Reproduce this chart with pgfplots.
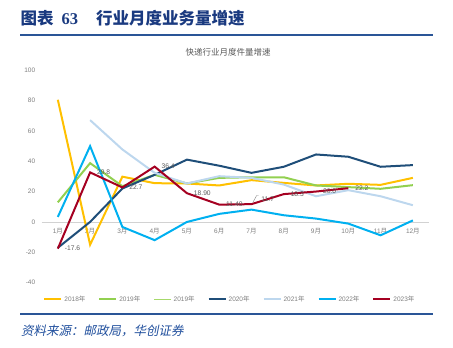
\documentclass[border=0pt]{standalone}
\usepackage{fontspec}
\setmainfont{Liberation Sans}
\newfontfamily\cjk{Noto Sans CJK SC}
\newfontfamily\cjksl{Noto Sans CJK SC}[FakeSlant=0.2]
\newfontfamily\serifb{Liberation Serif}
\usepackage{pgfplots}
\pgfplotsset{compat=1.18}
\definecolor{titleblue}{HTML}{1A3A80}
\definecolor{rulblue}{HTML}{2A5597}
\definecolor{srcblue}{HTML}{1F4E9C}
\definecolor{txtgray}{HTML}{595959}
\definecolor{lggray}{HTML}{7F7F7F}
\definecolor{c18}{HTML}{FFC000}
\definecolor{c19}{HTML}{92D050}
\definecolor{c19b}{HTML}{A6D96A}
\definecolor{c20}{HTML}{1F4E79}
\definecolor{c21}{HTML}{BDD7EE}
\definecolor{c22}{HTML}{00B0F0}
\definecolor{c23}{HTML}{A50021}
\begin{document}
\begin{tikzpicture}
\path[use as bounding box] (0,0) rectangle (453bp,348bp);
\node[anchor=west, inner sep=0pt, text=titleblue, font={\cjk\bfseries\fontsize{16.5bp}{18bp}\selectfont}] at (20.5bp,329.7bp) {图表\hspace{8bp}{\serifb\bfseries 63}\hspace{18bp}行业月度业务量增速};
\draw[rulblue, line width=1.5bp] (20bp,313bp) -- (433bp,313bp);
\node[text=txtgray, font={\cjk\fontsize{8.5bp}{10bp}\selectfont}] at (228bp,295.7bp) {快递行业月度件量增速};
\draw[rulblue, line width=2bp] (20bp,34bp) -- (433bp,34bp);
\node[anchor=west, inner sep=0pt, text=srcblue, font={\cjksl\fontsize{12.5bp}{14bp}\selectfont}] at (21bp,17.3bp) {资料来源：邮政局，华创证券};
\begin{axis}[
  at={(41.7bp,65.3bp)}, anchor=south west,
  width=387.3bp, height=212.7bp, scale only axis,
  xmin=0.5, xmax=12.5, ymin=-40, ymax=100,
  axis x line=middle, axis y line=left,
  x axis line style={-, draw=gray!35, line width=0.6bp},
  y axis line style={draw=none},
  major tick length=0pt,
  hide obscured x ticks=false, hide obscured y ticks=false,
  xtick={1,...,12},
  xticklabels={{1{\cjk 月}},{2{\cjk 月}},{3{\cjk 月}},{4{\cjk 月}},{5{\cjk 月}},{6{\cjk 月}},{7{\cjk 月}},{8{\cjk 月}},{9{\cjk 月}},{10{\cjk 月}},{11{\cjk 月}},{12{\cjk 月}}},
  ytick={-40,-20,0,20,40,60,80,100},
  /pgf/number format/assume math mode=true,
  tick label style={font=\fontsize{6.5bp}{7bp}\selectfont, text=lggray},
  xticklabel style={yshift=-3bp},
  yticklabel style={xshift=-3bp},
  clip=false,
  legend columns=-1,
  legend style={at={(0.486,-0.078)}, anchor=center, draw=none, fill=none,
    font=\fontsize{6.5bp}{7bp}\selectfont, text=lggray,
    /tikz/every even column/.append style={column sep=11bp},
    inner sep=0pt},
  legend image code/.code={\draw[#1] (0bp,0bp) -- (17bp,0bp);},
  every axis plot/.append style={line width=2bp},
]
\addplot[c18] coordinates {(1,80.4) (2,-15) (3,29.8) (4,25.5) (5,25.3) (6,24) (7,27.5) (8,25.7) (9,24) (10,25.1) (11,24.4) (12,29)};
\addlegendentry{2018{\cjk 年}}
\addplot[c19] coordinates {(1,12.9) (2,38.7) (3,23.5) (4,31) (5,25.3) (6,29) (7,29.4) (8,29.4) (9,24) (10,22.9) (11,21.8) (12,24.2)};
\addlegendentry{2019{\cjk 年}}
\addlegendimage{c19b, line width=1.4bp}
\addlegendentry{2019{\cjk 年}}
\addplot[c20] coordinates {(1,-17) (2,0) (3,22) (4,31) (5,41) (6,37) (7,32.3) (8,36.3) (9,44.4) (10,42.9) (11,36.3) (12,37.4)};
\addlegendentry{2020{\cjk 年}}
\addplot[c21] coordinates {(2,67) (3,47.7) (4,32.3) (5,25.3) (6,30.1) (7,29) (8,24.6) (9,16.9) (10,20.9) (11,16.9) (12,11)};
\addlegendentry{2021{\cjk 年}}
\addplot[c22] coordinates {(1,3.3) (2,49.9) (3,-3.3) (4,-12) (5,0) (6,5.3) (7,8.1) (8,4.4) (9,2.2) (10,-1.1) (11,-8.8) (12,1)};
\addlegendentry{2022{\cjk 年}}
\addplot[c23] coordinates {(1,-17.6) (2,32.6) (3,22.7) (4,36.4) (5,18.9) (6,11.4) (7,11.7) (8,18.3) (9,20.0) (10,22.2)};
\addlegendentry{2023{\cjk 年}}
\addplot[draw=none, forget plot, point meta=explicit symbolic, nodes near coords,
  every node near coord/.append style={anchor=west, xshift=5bp, inner sep=1bp, text=txtgray, font=\fontsize{6.7bp}{7bp}\selectfont}]
  coordinates {(1,-17.6) [-17.6] (2,32.6) [29.8] (3,22.7) [22.7] (4,36.4) [36.4] (5,18.9) [18.90] (6,11.4) [11.40] (8,18.3) [18.3] (9,20.0) [20.0] (10,22.2) [22.2]};
\addplot[draw=none, forget plot, point meta=explicit symbolic, nodes near coords,
  every node near coord/.append style={anchor=west, xshift=8bp, yshift=5bp, inner sep=1bp, text=txtgray, font=\fontsize{6.7bp}{7bp}\selectfont}]
  coordinates {(7,11.7) [11.7]};
\draw[gray, line width=0.4bp] (axis cs:7.04,12.7) -- (axis cs:7.16,17.4) -- (axis cs:7.22,17.4);
\end{axis}
\end{tikzpicture}
\end{document}
